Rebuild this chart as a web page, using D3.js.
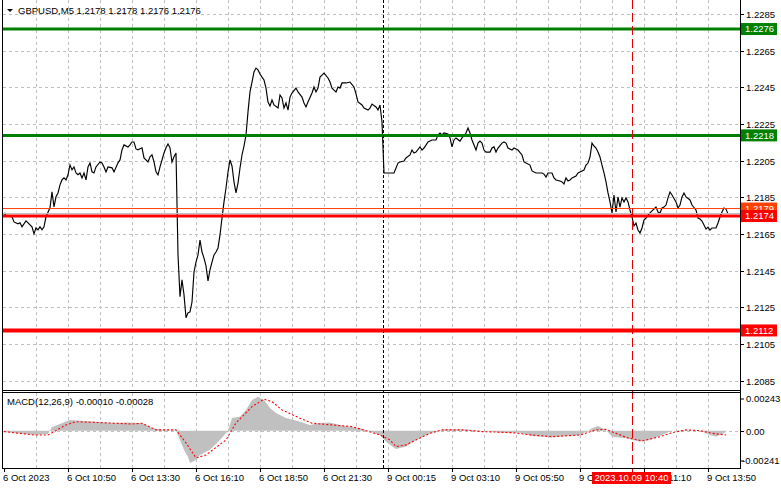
<!DOCTYPE html>
<html><head><meta charset="utf-8">
<script src="https://cdn.jsdelivr.net/npm/d3@7"></script>
<style>
html,body{margin:0;padding:0;background:#fff;}
svg{display:block;font-family:"Liberation Sans",Arial,sans-serif;}
</style></head><body>
<svg id="c" width="781" height="489"></svg>
<script>
// ---------- DATA ----------
const symbolTitle = "GBPUSD,M5  1.2178 1.2178 1.2176 1.2176";
const macdTitle = "MACD(12,26,9) -0.00010 -0.00028";
const priceBar = [0,1,4,5,7,8,9,11,12,14,15,16,17,18,19,20,21,23,24,25,26,27,28,29,30,31,32,33,34,35,36,37,38,39,40,41,42,43,44,45,46,48,49,50,51,52,54,55,57,58,59,60,62,63,64,65,66,67,69,70,72,73,74,75,76,77,78,80,81,82,83,84,85,86,87,88,89,90,91,92,93,94,95,96,97,98,99,100,101,102,103,104,105,106,107,108,109,110,111,112,113,114,115,116,117,118,119,120,121,122,123,124,125,126,127,128,129,130,131,132,133,134,135,137,138,139,140,141,142,143,144,146,147,149,150,151,152,154,155,156,157,158,159,160,162,163,164,165,166,167,168,169,171,173,175,176,177,179,180,182,183,184,186,187,188,189,190,192,195,197,198,200,201,203,204,205,206,208,209,210,212,214,216,217,218,219,220,222,223,224,225,226,228,229,231,232,233,234,235,236,237,238,239,240,241,243,244,245,246,247,249,250,251,252,254,255,257,259,260,261,263,264,266,269,270,271,272,274,275,276,278,279,280,281,282,283,284,286,287,289,290,291,292,293,294,295,296,297,298,299,300,301,302,303,304,305,306,307,308,309,310,311,312,313,314,315,316,317,318,319,320,321,323,324,326,327,328,329,330,331,332,333,334,336,337,338,339,340,341,343,344,346,347,348,349,350,351,352,353,354,356,357,358,359,360,361,362];
const priceClose = [1.21765,1.21749,1.21744,1.21716,1.21706,1.21711,1.21689,1.21722,1.21711,1.21689,1.21651,1.21684,1.21673,1.21689,1.21673,1.21689,1.21744,1.21793,1.2188,1.21798,1.21853,1.21874,1.21918,1.21945,1.21956,1.21945,1.21973,1.22027,1.2200,1.22016,1.21983,1.21973,1.21983,1.21956,1.21983,1.21945,1.22016,1.22038,1.21989,1.21983,1.22016,1.22043,1.22038,1.22016,1.21989,1.22016,1.22011,1.21989,1.22038,1.22054,1.22109,1.22136,1.22125,1.22136,1.22152,1.22152,1.22114,1.22109,1.2212,1.22065,1.22043,1.22071,1.22082,1.22043,1.21989,1.21973,1.22016,1.22092,1.2212,1.22141,1.2212,1.22043,1.22071,1.22092,1.21537,1.21308,1.214,1.21319,1.21193,1.2122,1.21225,1.21279,1.21443,1.21497,1.21536,1.21617,1.21552,1.21519,1.21476,1.21394,1.21454,1.21497,1.21536,1.21552,1.21574,1.21645,1.21737,1.21825,1.21901,1.21988,1.22054,1.22021,1.21934,1.21874,1.21928,1.2201,1.22081,1.2213,1.2219,1.22316,1.22425,1.22479,1.22534,1.22555,1.22545,1.22523,1.22506,1.2249,1.22446,1.2237,1.22348,1.22381,1.22354,1.22337,1.22408,1.22392,1.22337,1.22365,1.22326,1.22397,1.22419,1.22446,1.22425,1.22397,1.22365,1.22343,1.2237,1.22419,1.22452,1.22425,1.22446,1.22506,1.22517,1.22528,1.22501,1.22479,1.22446,1.22435,1.22425,1.22452,1.22446,1.22474,1.22474,1.22479,1.22452,1.22414,1.2237,1.22354,1.22337,1.22326,1.22337,1.22359,1.22343,1.22326,1.22354,1.22261,1.21983,1.21983,1.21983,1.22037,1.22043,1.22048,1.22065,1.22081,1.22108,1.22092,1.22097,1.22125,1.22108,1.22119,1.22152,1.22163,1.22163,1.2219,1.22201,1.2219,1.22201,1.22196,1.22174,1.22125,1.22163,1.22174,1.22157,1.22174,1.22201,1.22228,1.22201,1.22163,1.22136,1.22108,1.22146,1.22157,1.22146,1.22108,1.22097,1.22097,1.22119,1.22125,1.22097,1.22119,1.22146,1.22152,1.22146,1.22119,1.22108,1.22119,1.22108,1.22081,1.22043,1.22037,1.22026,1.21994,1.21983,1.21983,1.21977,1.21961,1.21983,1.21983,1.21956,1.21945,1.21939,1.21934,1.21923,1.21956,1.21939,1.21945,1.21956,1.21966,1.21983,1.21994,1.21999,1.22026,1.22037,1.2207,1.22146,1.2213,1.22119,1.22097,1.2207,1.22026,1.21983,1.21934,1.21874,1.21825,1.21765,1.21863,1.2177,1.21852,1.21797,1.21847,1.21825,1.21847,1.21825,1.21781,1.21743,1.21694,1.2171,1.21672,1.21656,1.21683,1.21726,1.21737,1.21765,1.21776,1.21797,1.2177,1.21765,1.21792,1.21797,1.21808,1.21847,1.21879,1.21863,1.21825,1.21792,1.21808,1.21852,1.21874,1.21852,1.21836,1.21808,1.21781,1.21737,1.21732,1.21721,1.21699,1.21677,1.21688,1.21672,1.21683,1.21683,1.2171,1.21743,1.2177,1.21792,1.21786,1.2176];

const macdBar = [0,5,15,22,24,28,33,40,48,55,62,69,74,80,86,88,90,92,93,96,98,103,108,111,112,114,118,121,124,127,130,133,136,141,145,148,153,158,163,168,173,178,183,188,191,196,201,206,211,216,220,230,240,248,258,264,274,288,294,297,301,304,311,318,323,329,334,341,348,353,356,361];
const macdVal = [-0.00008,-0.00015,-0.00028,-0.00021,0.00024,0.00043,0.00069,0.00063,0.00056,0.0005,0.00053,0.0005,0.00017,0.00005,0.00001,-0.0006,-0.00125,-0.0017,-0.00208,-0.00189,-0.00157,-0.00124,-0.0006,-0.00015,0,0.00082,0.0009,0.00134,0.00198,0.00219,0.00198,0.00146,0.00114,0.00082,0.00069,0.00058,0.00037,0.0005,0.00052,0.00037,0.00026,0.00017,-0.00006,-0.00028,-0.00071,-0.00118,-0.00103,-0.0006,-0.00028,-0.00006,0.00009,0.00009,0,-0.00013,-0.00013,-0.00034,-0.00043,-0.00028,0.00015,0.0003,0.00005,-0.00039,-0.00049,-0.00071,-0.0006,-0.00028,0,0.00005,0,-0.00028,-0.00039,-0.0001];
const sigBar = [0,15,22,31,36,48,64,69,76,86,91,96,101,111,116,124,130,134,139,148,154,164,174,181,188,193,196,201,206,213,219,229,239,254,264,274,288,296,301,306,311,319,328,334,341,348,354,361];
const sigVal = [-0.00006,-0.00028,-0.00028,0.00037,0.00058,0.00052,0.00043,0.00048,0.00005,0.00005,-0.00079,-0.00176,-0.00157,-0.0006,0.0005,0.00155,0.00203,0.00187,0.00134,0.0008,0.00048,0.00037,0.00026,0,-0.00028,-0.0006,-0.00103,-0.00092,-0.0006,-0.00017,0.00005,0.00005,-0.00006,-0.00013,-0.00028,-0.00039,-0.00028,0.00005,0.00009,-0.00017,-0.00043,-0.00066,-0.00039,-0.00013,0.00005,0,-0.00017,-0.00028];

const priceTicks = [1.2285,1.2265,1.2245,1.2225,1.2205,1.2185,1.2165,1.2145,1.2125,1.2105,1.2085];
const macdMax = 0.00243, macdMin = -0.00241;
const macdTickVals = [0.00243, 0, -0.00241];
const macdTickLabels = ["0.00243","0.00","-0.00241"];
const timeTickBars = [0,32,64,96,128,160,192,224,256,288,320,352];
const timeTickLabels = ["6 Oct 2023","6 Oct 10:50","6 Oct 13:30","6 Oct 16:10","6 Oct 18:50","6 Oct 21:30","9 Oct 00:15","9 Oct 03:10","9 Oct 05:50","9 Oct 08:30","9 Oct 11:10","9 Oct 13:50"];
const gridBarStep = 16;
const lastBar = 362;
const separatorBar = 190;
const crossBar = 314;
const crossLabel = "2023.10.09 10:40";
const levelValues = [1.22768, 1.22188, 1.21789, 1.21748, 1.21124];
const levelLabels = ["1.2276","1.2218","1.2179","1.2174","1.2112"];
const levelColors = ["#008000","#008000","#ff4000","#ff0000","#ff0000"];
const levelWidths = [3,3,1,3,4];
const bidValue = 1.21762;

// ---------- LAYOUT ----------
const svg = d3.select("#c");
const L = 3, R = 740, mainTop = 0, mainBot = 390, mTop = 393, mBot = 468;
const x = d3.scaleLinear().domain([0, lastBar]).range([4, 728]);
const y = d3.scaleLinear().domain([1.2085, 1.2285]).range([380.7, 14]);
const ym = d3.scaleLinear().domain([macdMin, macdMax]).range([mBot, mTop]);
const FS = "9.5px";

const grid = svg.append("g").attr("stroke","#c0c0c0").attr("stroke-dasharray","3,3").attr("stroke-width",1).attr("shape-rendering","crispEdges");
priceTicks.forEach(p=>{
  const yy = Math.round(y(p))+0.5;
  grid.append("line").attr("x1",L).attr("x2",R).attr("y1",yy).attr("y2",yy);
});
grid.append("line").attr("x1",L).attr("x2",R).attr("y1",Math.round(ym(0))+0.5).attr("y2",Math.round(ym(0))+0.5);
for(let b=gridBarStep;b<=lastBar-8;b+=gridBarStep){
  const xx = Math.round(x(b))+0.5;
  grid.append("line").attr("x1",xx).attr("x2",xx).attr("y1",mainTop).attr("y2",mainBot);
  grid.append("line").attr("x1",xx).attr("x2",xx).attr("y1",mTop).attr("y2",mBot);
}

// MACD histogram (area) and signal
const macdData = macdBar.map((b,i)=>({b, v:macdVal[i]}));
svg.append("path").datum(macdData)
  .attr("d", d3.area().x(d=>x(d.b)).y0(ym(0)).y1(d=>ym(d.v)))
  .attr("fill","#c0c0c0");
const sigData = sigBar.map((b,i)=>({b, v:sigVal[i]}));
svg.append("path").datum(sigData)
  .attr("d", d3.line().x(d=>x(d.b)).y(d=>ym(d.v)))
  .attr("fill","none").attr("stroke","#ff0000").attr("stroke-width",1.1).attr("stroke-dasharray","2,2");

// price line
const pData = priceBar.map((b,i)=>({b, p:priceClose[i]}));
svg.append("path").datum(pData)
  .attr("d", d3.line().x(d=>x(d.b)).y(d=>y(d.p)))
  .attr("fill","none").attr("stroke","#000").attr("stroke-width",1.15);

// bid line
svg.append("line").attr("x1",L).attr("x2",R).attr("y1",y(bidValue)).attr("y2",y(bidValue)).attr("stroke","#c0c0c0");

// levels
levelValues.forEach((v,i)=>{
  svg.append("line").attr("x1",L).attr("x2",R).attr("y1",y(v)).attr("y2",y(v))
    .attr("stroke",levelColors[i]).attr("stroke-width",levelWidths[i]);
});

// separators
svg.append("line").attr("x1",x(separatorBar)-0.5).attr("x2",x(separatorBar)-0.5).attr("y1",0).attr("y2",mBot)
  .attr("stroke","#000").attr("stroke-dasharray","3,2").attr("shape-rendering","crispEdges");
svg.append("line").attr("x1",x(crossBar)+0.5).attr("x2",x(crossBar)+0.5).attr("y1",0).attr("y2",472)
  .attr("stroke","#e00000").attr("stroke-dasharray","9,4").attr("shape-rendering","crispEdges");

// frames
const fr = svg.append("g").attr("stroke","#000").attr("stroke-width",1).attr("fill","none").attr("shape-rendering","crispEdges");
fr.append("line").attr("x1",2.5).attr("x2",2.5).attr("y1",0).attr("y2",mBot+1);
fr.append("line").attr("x1",2.5).attr("x2",2.5).attr("y1",mTop).attr("y2",mBot+1);
fr.append("line").attr("x1",R+0.5).attr("x2",R+0.5).attr("y1",0).attr("y2",mBot);
fr.append("line").attr("x1",R+0.5).attr("x2",R+0.5).attr("y1",mTop).attr("y2",mBot+0.5);
fr.append("line").attr("x1",2).attr("x2",R+1).attr("y1",mainBot+0.5).attr("y2",mainBot+0.5);
fr.append("line").attr("x1",2).attr("x2",R+1).attr("y1",mTop-0.5).attr("y2",mTop-0.5);
fr.append("line").attr("x1",2).attr("x2",R+1).attr("y1",mBot+0.5).attr("y2",mBot+0.5);

// right price axis
const ax = svg.append("g").attr("font-size",FS).attr("fill","#000");
priceTicks.forEach(p=>{
  const yy = Math.round(y(p))+0.5;
  svg.append("line").attr("x1",R).attr("x2",R+4).attr("y1",yy).attr("y2",yy).attr("stroke","#000");
  ax.append("text").attr("x",746).attr("y",yy).attr("dy","0.35em").text(p.toFixed(4));
});
macdTickVals.forEach((v,i)=>{
  const yy = v===macdMax ? 399 : v===macdMin ? 461 : Math.round(ym(v))+0.5;
  svg.append("line").attr("x1",R).attr("x2",R+4).attr("y1",yy).attr("y2",yy).attr("stroke","#000");
  ax.append("text").attr("x", v<0?742:746).attr("y",yy).attr("dy","0.35em").text(macdTickLabels[i]);
});

// level label boxes
levelValues.forEach((v,i)=>{
  const yy = y(v);
  svg.append("rect").attr("x",741).attr("y",yy-6).attr("width",36).attr("height",12).attr("fill",levelColors[i]);
  svg.append("text").attr("x",745).attr("y",yy).attr("dy","0.35em").attr("font-size",FS).attr("fill","#fff").text(levelLabels[i]);
});

// bottom time axis
timeTickBars.forEach((b,i)=>{
  const xx = Math.round(x(b))+0.5;
  svg.append("line").attr("x1",xx).attr("x2",xx).attr("y1",mBot).attr("y2",mBot+4).attr("stroke","#000");
  svg.append("text").attr("x",xx-1.5).attr("y",477.5).attr("dy","0.35em").attr("font-size",FS).text(timeTickLabels[i]);
});
// crosshair time box
const cx = x(crossBar);
svg.append("rect").attr("x",cx-40).attr("y",472).attr("width",79).attr("height",12).attr("fill","#ff0000");
svg.append("text").attr("x",cx-0.5).attr("y",478).attr("dy","0.35em").attr("text-anchor","middle").attr("font-size",FS).attr("fill","#fff").text(crossLabel);

// titles
svg.append("path").attr("d","M7,9L13,9L10,12Z").attr("fill","#000");
svg.append("text").attr("x",18).attr("y",10.5).attr("dy","0.35em").attr("font-size",FS).text(symbolTitle);
svg.append("text").attr("x",7).attr("y",401.5).attr("dy","0.35em").attr("font-size",FS).text(macdTitle);
</script>
</body></html>
